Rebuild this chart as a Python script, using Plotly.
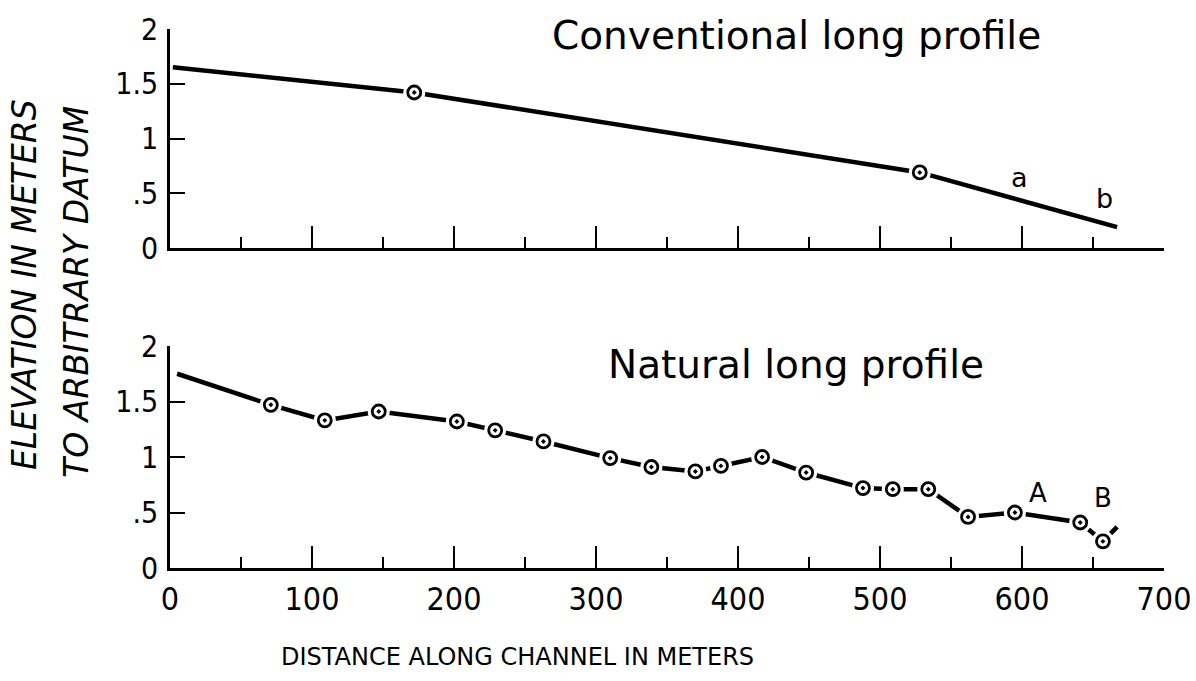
import plotly.graph_objects as go

# ---- data ----
x_ticks = [0, 100, 200, 300, 400, 500, 600, 700]
x_tick_labels = ["0", "100", "200", "300", "400", "500", "600", "700"]
x_minor_ticks = [50, 150, 250, 350, 450, 550, 650]
y_ticks = [0, 0.5, 1, 1.5, 2]
y_tick_labels = ["0", ".5", "1", "1.5", "2"]

# Conventional long profile (top)
conv_x = [2, 172, 528, 667]
conv_y = [1.65, 1.42, 0.69, 0.19]
conv_station_x = [172, 528]
conv_station_y = [1.42, 0.69]
conv_labels = ["a", "b"]
conv_label_x = [598, 658]
conv_label_y = [0.64, 0.45]

# Natural long profile (bottom)
nat_x = [5, 71, 109, 147, 202, 229, 263, 310, 339, 370, 388, 417, 448, 488,
         509, 534, 562, 595, 641, 657, 667]
nat_y = [1.75, 1.47, 1.33, 1.41, 1.32, 1.24, 1.14, 0.99, 0.91, 0.87, 0.92,
         1.00, 0.86, 0.72, 0.71, 0.71, 0.46, 0.50, 0.41, 0.24, 0.37]
nat_station_x = nat_x[1:-1]
nat_station_y = nat_y[1:-1]
nat_labels = ["A", "B"]
nat_label_x = [611, 657]
nat_label_y = [0.68, 0.63]

W, H = 1196, 681
FONT = "DejaVu Sans, Liberation Sans, sans-serif"
TICKFONT = "Liberation Sans Narrow, DejaVu Sans Condensed, DejaVu Sans, sans-serif"

def px_x(p):
    return p / W

def px_y(p):
    return 1 - p / H

fig = go.Figure()

def add_profile(xs, ys, sx, sy, xa, ya):
    fig.add_trace(go.Scatter(x=xs, y=ys, mode="lines", xaxis=xa, yaxis=ya,
                             line=dict(color="black", width=4.5),
                             hoverinfo="skip", showlegend=False))
    fig.add_trace(go.Scatter(x=sx, y=sy, mode="markers", xaxis=xa, yaxis=ya,
                             marker=dict(symbol="circle", size=22, color="white",
                                         line=dict(width=0)),
                             hoverinfo="skip", showlegend=False))
    fig.add_trace(go.Scatter(x=sx, y=sy, mode="markers", xaxis=xa, yaxis=ya,
                             marker=dict(symbol="circle-open-dot", size=13,
                                         color="black", line=dict(width=2.8, color="black")),
                             hoverinfo="skip", showlegend=False))

add_profile(conv_x, conv_y, conv_station_x, conv_station_y, "x", "y")
add_profile(nat_x, nat_y, nat_station_x, nat_station_y, "x2", "y2")

xdom = [px_x(170), px_x(1164)]

def xaxis_cfg(anchor, labels):
    return dict(domain=xdom, range=[0, 700], anchor=anchor,
                showline=True, linecolor="black", linewidth=2.5,
                showgrid=False, zeroline=False,
                ticks="inside", ticklen=22, tickwidth=2, tickcolor="black",
                tickvals=x_ticks, ticktext=x_tick_labels,
                showticklabels=labels, ticklabelstandoff=1,
                tickfont=dict(family=TICKFONT, size=32, color="black"),
                minor=dict(ticks="inside", ticklen=11, tickwidth=2,
                           tickcolor="black", tickvals=x_minor_ticks),
                automargin=False, fixedrange=True)

def yaxis_cfg(anchor, dom):
    return dict(domain=dom, range=[0, 2], anchor=anchor,
                showline=True, linecolor="black", linewidth=2.5,
                showgrid=False, zeroline=False,
                ticks="inside", ticklen=15, tickwidth=2, tickcolor="black",
                tickvals=y_ticks, ticktext=y_tick_labels,
                ticklabelstandoff=3,
                tickfont=dict(family=TICKFONT, size=30, color="black"),
                automargin=False, fixedrange=True)

def ann(text, x, y, xref, yref, size, **kw):
    font = dict(family=FONT, size=size, color="black")
    font.update(kw.pop("font_extra", {}))
    d = dict(text=text, x=x, y=y, xref=xref, yref=yref, showarrow=False,
             xanchor="center", yanchor="middle", font=font)
    d.update(kw)
    return d

annotations = []
for t, x, y in zip(conv_labels, conv_label_x, conv_label_y):
    annotations.append(ann(t, x, y, "x", "y", 27))
for t, x, y in zip(nat_labels, nat_label_x, nat_label_y):
    annotations.append(ann(t, x, y, "x2", "y2", 26))

annotations += [
    ann("Conventional long profile", px_x(796), px_y(36), "paper", "paper", 39),
    ann("Natural long profile", px_x(796), px_y(364), "paper", "paper", 39),
    ann("ELEVATION IN METERS", px_x(25), px_y(285), "paper", "paper", 33,
        textangle=-90, font_extra=dict(style="italic")),
    ann("TO ARBITRARY DATUM", px_x(76), px_y(292), "paper", "paper", 33,
        textangle=-90, font_extra=dict(style="italic")),
    ann("DISTANCE ALONG CHANNEL IN METERS", px_x(517), px_y(657), "paper", "paper", 24),
]

fig.update_layout(
    width=W, height=H,
    margin=dict(l=0, r=0, t=0, b=0),
    paper_bgcolor="white", plot_bgcolor="white",
    xaxis=xaxis_cfg("y", False),
    yaxis=yaxis_cfg("x", [px_y(248), px_y(29)]),
    xaxis2=xaxis_cfg("y2", True),
    yaxis2=yaxis_cfg("x2", [px_y(568), px_y(346)]),
    annotations=annotations,
    showlegend=False,
)

fig.write_html("out.html")
